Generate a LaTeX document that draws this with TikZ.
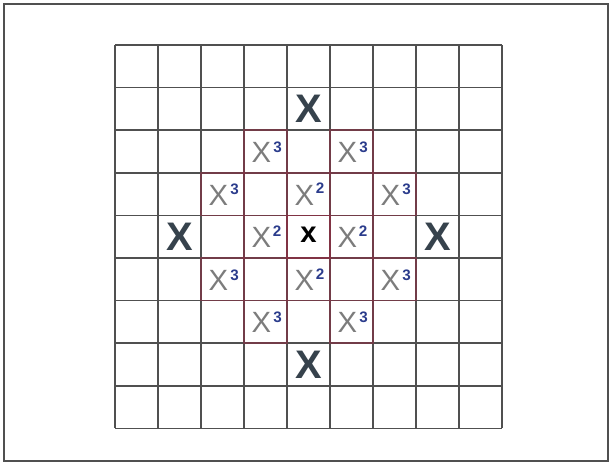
\documentclass[tikz,border=0pt]{standalone}
\usepackage{fontspec}
\setsansfont{Liberation Sans}
\usetikzlibrary{positioning}
\definecolor{gridline}{HTML}{505050}
\definecolor{ringred}{HTML}{8E2C42}
\definecolor{farmark}{HTML}{36424C}
\definecolor{nearmark}{HTML}{7C7C7C}
\definecolor{powblue}{HTML}{2B3C8C}

\begin{document}
\begin{tikzpicture}[x=0.03cm, y=-0.03cm,
    frame/.style={draw=gridline, line width=1.2pt},
    gridln/.style={draw=gridline, line width=1.3pt},
    ring/.style={draw=ringred, line width=1.3pt, opacity=0.55},
    far/.style={font=\sffamily\bfseries\fontsize{34}{34}\selectfont, text=farmark, inner sep=0pt},
    near/.style={font=\sffamily\fontsize{25}{25}\selectfont, text=nearmark, inner sep=0pt},
    pow/.style={font=\sffamily\bfseries\fontsize{13}{13}\selectfont, text=powblue, inner sep=0pt},
    centre/.style={font=\sffamily\bfseries\fontsize{25}{25}\selectfont, text=black, inner sep=0pt}]

    \useasboundingbox (0,0) rectangle (611,465);
    \draw [frame] (4,4) rectangle (608,461);

    % the board
    \foreach \i in {0,...,9} {
        \draw [gridln] ({115+43*\i},45) -- ({115+43*\i},428.4);
        \draw [gridln] (115,{45+42.6*\i}) -- (502,{45+42.6*\i});
    }

    % red outlines round the marked cells
    \foreach \r/\c in {2/3,2/5,3/2,3/4,3/6,4/3,4/4,4/5,5/2,5/4,5/6,6/3,6/5}
        \draw [ring] ({115+43*\c},{45+42.6*\r}) rectangle ({115+43*(\c+1)},{45+42.6*(\r+1)});

    \node [centre] (start) at ({115+43*4.5},{45+42.6*4.5-2}) {x};

    % four moves away
    \foreach \r/\c/\n in {1/4/north,7/4/south,4/1/west,4/7/east}
        \node [far] (far-\n) at ({115+43*(\c+0.5)},{45+42.6*(\r+0.5)}) {X};

    % two moves
    \foreach \r/\c in {3/4,4/3,4/5,5/4} {
        \node [near] (two-\r-\c) at ({115+43*(\c+0.5)-4},{45+42.6*(\r+0.5)+1}) {X};
        \node [pow, above right=-8pt and 1pt of two-\r-\c] {2};
    }

    % three moves
    \foreach \r/\c in {2/3,2/5,3/2,3/6,5/2,5/6,6/3,6/5} {
        \node [near] (three-\r-\c) at ({115+43*(\c+0.5)-4},{45+42.6*(\r+0.5)+1}) {X};
        \node [pow, above right=-9pt and 1.5pt of three-\r-\c] {3};
    }

\end{tikzpicture}
\end{document}
